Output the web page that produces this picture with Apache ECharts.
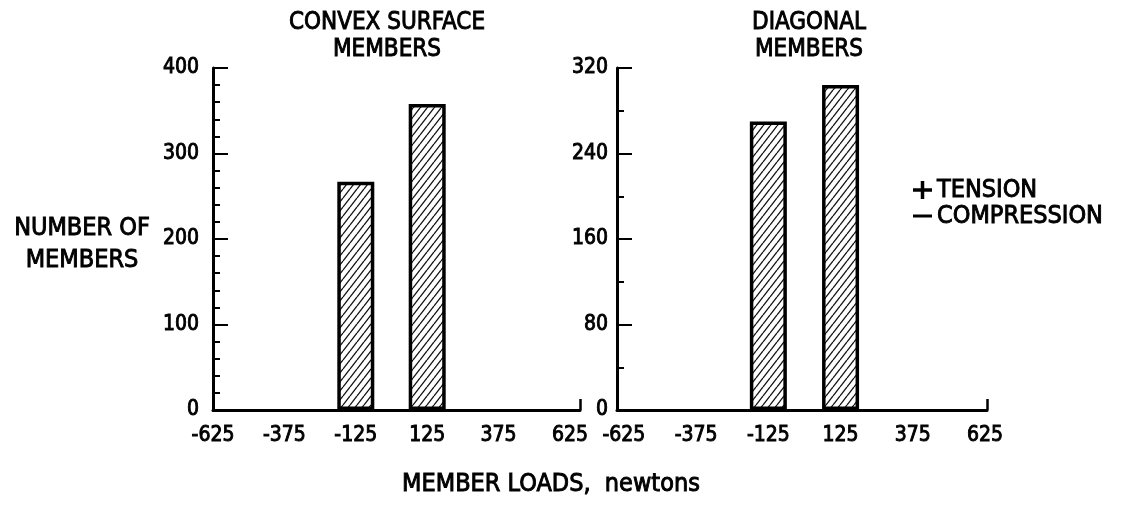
<!DOCTYPE html>
<html>
<head>
<meta charset="utf-8">
<script src="https://cdn.jsdelivr.net/npm/echarts@6.0.0/dist/echarts.min.js"></script>
<style>
  html, body { margin: 0; padding: 0; background: #fff; }
  #chart { width: 1122px; height: 505px; }
</style>
</head>
<body>
<div id="chart"></div>
<script>
// ---- data ----
const binCenters = [-625, -375, -125, 125, 375, 625];
const convexCounts = [0, 0, 267, 358, 0, 0];
const diagonalCounts = [0, 0, 270, 304, 0, 0];
const xTickLabels = [-625, -375, -125, 125, 375, 625];
const convexYTicks = { max: 400, interval: 100 };
const diagonalYTicks = { max: 320, interval: 80 };
const leftTitle = 'CONVEX SURFACE\nMEMBERS';
const rightTitle = 'DIAGONAL\nMEMBERS';
const yName = 'NUMBER OF\nMEMBERS';
const xName = 'MEMBER LOADS,  newtons';
const legendItems = ['TENSION', 'COMPRESSION'];

// ---- hatch pattern ----
function hatch() {
  const w = 7, h = 9;
  const c = document.createElement('canvas');
  c.width = w; c.height = h;
  const g = c.getContext('2d');
  g.fillStyle = '#fff';
  g.fillRect(0, 0, w, h);
  g.strokeStyle = '#111';
  g.lineWidth = 1.3;
  for (let k = -1; k <= 1; k++) {
    g.beginPath();
    g.moveTo(k * w, h);
    g.lineTo(k * w + w, 0);
    g.stroke();
  }
  return c;
}
const pattern = { image: hatch(), repeat: 'repeat' };

const FONT = '"DejaVu Sans Condensed", "Liberation Sans", sans-serif';
const black = '#000';
const EMB = 0.9; // stroke width used to embolden the lettering

function pairs(vals) {
  return binCenters.map((x, i) => [x, vals[i]]).filter(p => p[1] > 0);
}

function xAxisCfg(idx, min, max) {
  return {
    type: 'value', gridIndex: idx, min: min, max: max,
    splitLine: { show: false },
    axisLine: { show: true, onZero: false, lineStyle: { color: black, width: 3 } },
    axisTick: { show: true, inside: true, length: 11, customValues: [max], lineStyle: { color: black, width: 2.5 } },
    axisLabel: { customValues: xTickLabels, color: black, fontSize: 21, fontFamily: FONT, margin: 15,
      textBorderColor: black, textBorderWidth: EMB,
      showMinLabel: true, showMaxLabel: true }
  };
}
function yAxisCfg(idx, cfg, split, margin) {
  return {
    type: 'value', gridIndex: idx, min: 0, max: cfg.max, interval: cfg.interval,
    splitLine: { show: false },
    axisLine: { show: true, onZero: false, lineStyle: { color: black, width: 3 } },
    axisTick: { show: true, inside: true, length: 15, lineStyle: { color: black, width: 2 } },
    minorTick: { show: true, splitNumber: split, length: 7, lineStyle: { color: black, width: 2 } },
    axisLabel: { color: black, fontSize: 21, fontFamily: FONT, margin: margin,
      textBorderColor: black, textBorderWidth: EMB }
  };
}
function barSeries(idx, vals) {
  return {
    type: 'bar', xAxisIndex: idx, yAxisIndex: idx,
    data: pairs(vals), barWidth: 37,
    itemStyle: { color: pattern, borderColor: black, borderWidth: 3.5 },
    silent: true, animation: false
  };
}
function text(x, y, str, size, align, lh) {
  return { type: 'text', x: x, y: y, silent: true,
    style: { text: str, fill: black, stroke: black, lineWidth: EMB,
      font: size + 'px ' + FONT, textAlign: align || 'center',
      textVerticalAlign: 'middle', lineHeight: lh || size } };
}

const chart = echarts.init(document.getElementById('chart'), null, { renderer: 'canvas' });
chart.setOption({
  animation: false,
  backgroundColor: '#fff',
  grid: [
    { left: 213, top: 68, width: 367, height: 342 },
    { left: 617, top: 68, width: 370, height: 342 }
  ],
  xAxis: [xAxisCfg(0, -625, 660), xAxisCfg(1, -649, 632)],
  yAxis: [yAxisCfg(0, convexYTicks, 5, 14), yAxisCfg(1, diagonalYTicks, 2, 9)],
  series: [barSeries(0, convexCounts), barSeries(1, diagonalCounts)],
  graphic: [
    text(387, 36, leftTitle, 24, 'center', 27),
    text(809, 36, rightTitle, 24, 'center', 27),
    text(82, 244, yName, 25, 'center', 32),
    text(551, 484, xName, 25, 'center'),
    text(937, 190, legendItems[0], 25, 'left'),
    text(937, 216, legendItems[1], 25, 'left'),
    { type: 'line', silent: true, shape: { x1: 913, y1: 190, x2: 932, y2: 190 }, style: { stroke: black, lineWidth: 3.5 } },
    { type: 'line', silent: true, shape: { x1: 922.5, y1: 181, x2: 922.5, y2: 199 }, style: { stroke: black, lineWidth: 3.5 } },
    { type: 'line', silent: true, shape: { x1: 913, y1: 216, x2: 932, y2: 216 }, style: { stroke: black, lineWidth: 3 } }
  ]
});
</script>
</body>
</html>
